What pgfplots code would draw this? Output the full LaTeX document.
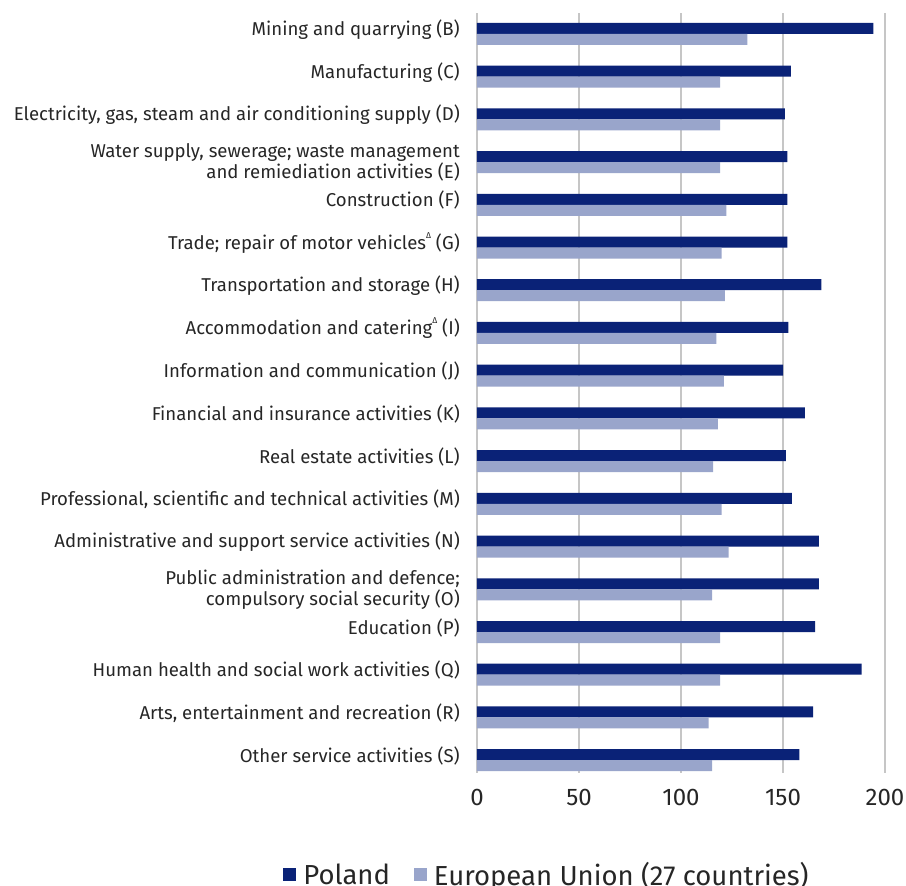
\documentclass[border=0pt]{standalone}
\usepackage{fontspec}
\setmainfont{Fira Sans}
\usepackage{pgfplots}
\pgfplotsset{compat=1.18}
\definecolor{pl}{HTML}{0A2277}
\definecolor{eu}{HTML}{99A5CB}
\definecolor{txt}{HTML}{262626}
\definecolor{gridc}{HTML}{C6C6C6}
\newcommand{\tri}{\raisebox{0.6em}{\fontsize{8.5}{9}\selectfont Δ}}

\begin{document}
\begin{tikzpicture}
\begin{axis}[
scale only axis,
width=408pt, height=760pt,
xmin=0, xmax=200,
ymin=-0.3, ymax=17.49,
xtick={0,50,100,150,200},
ytick={0,1,2,3,5,6,7,8,9,10,11,12,13,15,16,17},
yticklabels={
Other service activities (S),
{Arts, entertainment and recreation (R)},
Human health and social work activities (Q),
Education (P),
Administrative and support service activities (N),
{Professional, scientific and technical activities (M)},
Real estate activities (L),
Financial and insurance activities (K),
Information and communication (J),
Accommodation and catering\tri{} (I),
Transportation and storage (H),
Trade; repair of motor vehicles\tri{} (G),
Construction (F),
{Electricity, gas, steam and air conditioning supply (D)},
Manufacturing (C),
Mining and quarrying (B)},
extra y ticks={4,14},
extra y tick labels={
{Public administration and defence;\\compulsory social security (O)},
{Water supply, sewerage; waste management\\and remiediation activities (E)}},
extra y tick style={yticklabel style={yshift=-4.5pt}},
xmajorgrids,
grid style={gridc, line width=1.6pt},
axis line style={draw=none},
tick style={draw=none},
major tick length=0pt,
/pgf/number format/assume math mode=true,
xticklabel style={font=\fontsize{24}{28}\selectfont, text=txt, inner sep=0pt, yshift=-16pt},
yticklabel style={font=\fontsize{18.6}{21}\selectfont, text=txt, align=right, inner sep=0pt, xshift=-17pt, yshift=4.5pt},
xbar, bar width=11pt,
legend style={at={(0.1716,-0.1335)}, anchor=center, draw=none, fill=none,
  legend columns=2, font=\fontsize{27.5}{30}\selectfont, text=txt,
  /tikz/every odd column/.append style={column sep=5pt},
  /tikz/every even column/.append style={column sep=22pt}},
legend image code/.code={\fill[#1] (0pt,-6.5pt) rectangle (13pt,6.5pt);},
]
\addplot[fill=pl, draw=none, bar shift=5.5pt] coordinates {
(158.0,0) (164.8,1) (188.6,2) (165.8,3) (167.6,4) (167.6,5) (154.4,6) (151.4,7) (160.7,8)
(150.1,9) (152.6,10) (168.8,11) (152.1,12) (152.1,13) (152.1,14) (150.9,15) (153.9,16) (194.3,17)};
\addlegendentry{Poland}
\addplot[fill=eu, draw=none, bar shift=-5.5pt] coordinates {
(115.3,0) (113.5,1) (119.2,2) (119.2,3) (115.3,4) (123.3,5) (119.9,6) (115.8,7) (118.1,8)
(121.0,9) (117.4,10) (121.5,11) (119.9,12) (122.2,13) (119.2,14) (119.2,15) (119.2,16) (132.5,17)};
\addlegendentry{European Union (27 countries)}
\end{axis}
\pgfresetboundingbox
\path[use as bounding box] (current axis.south west) ++(-477pt,-113pt) rectangle ++(906pt,886pt);
\end{tikzpicture}
\end{document}
